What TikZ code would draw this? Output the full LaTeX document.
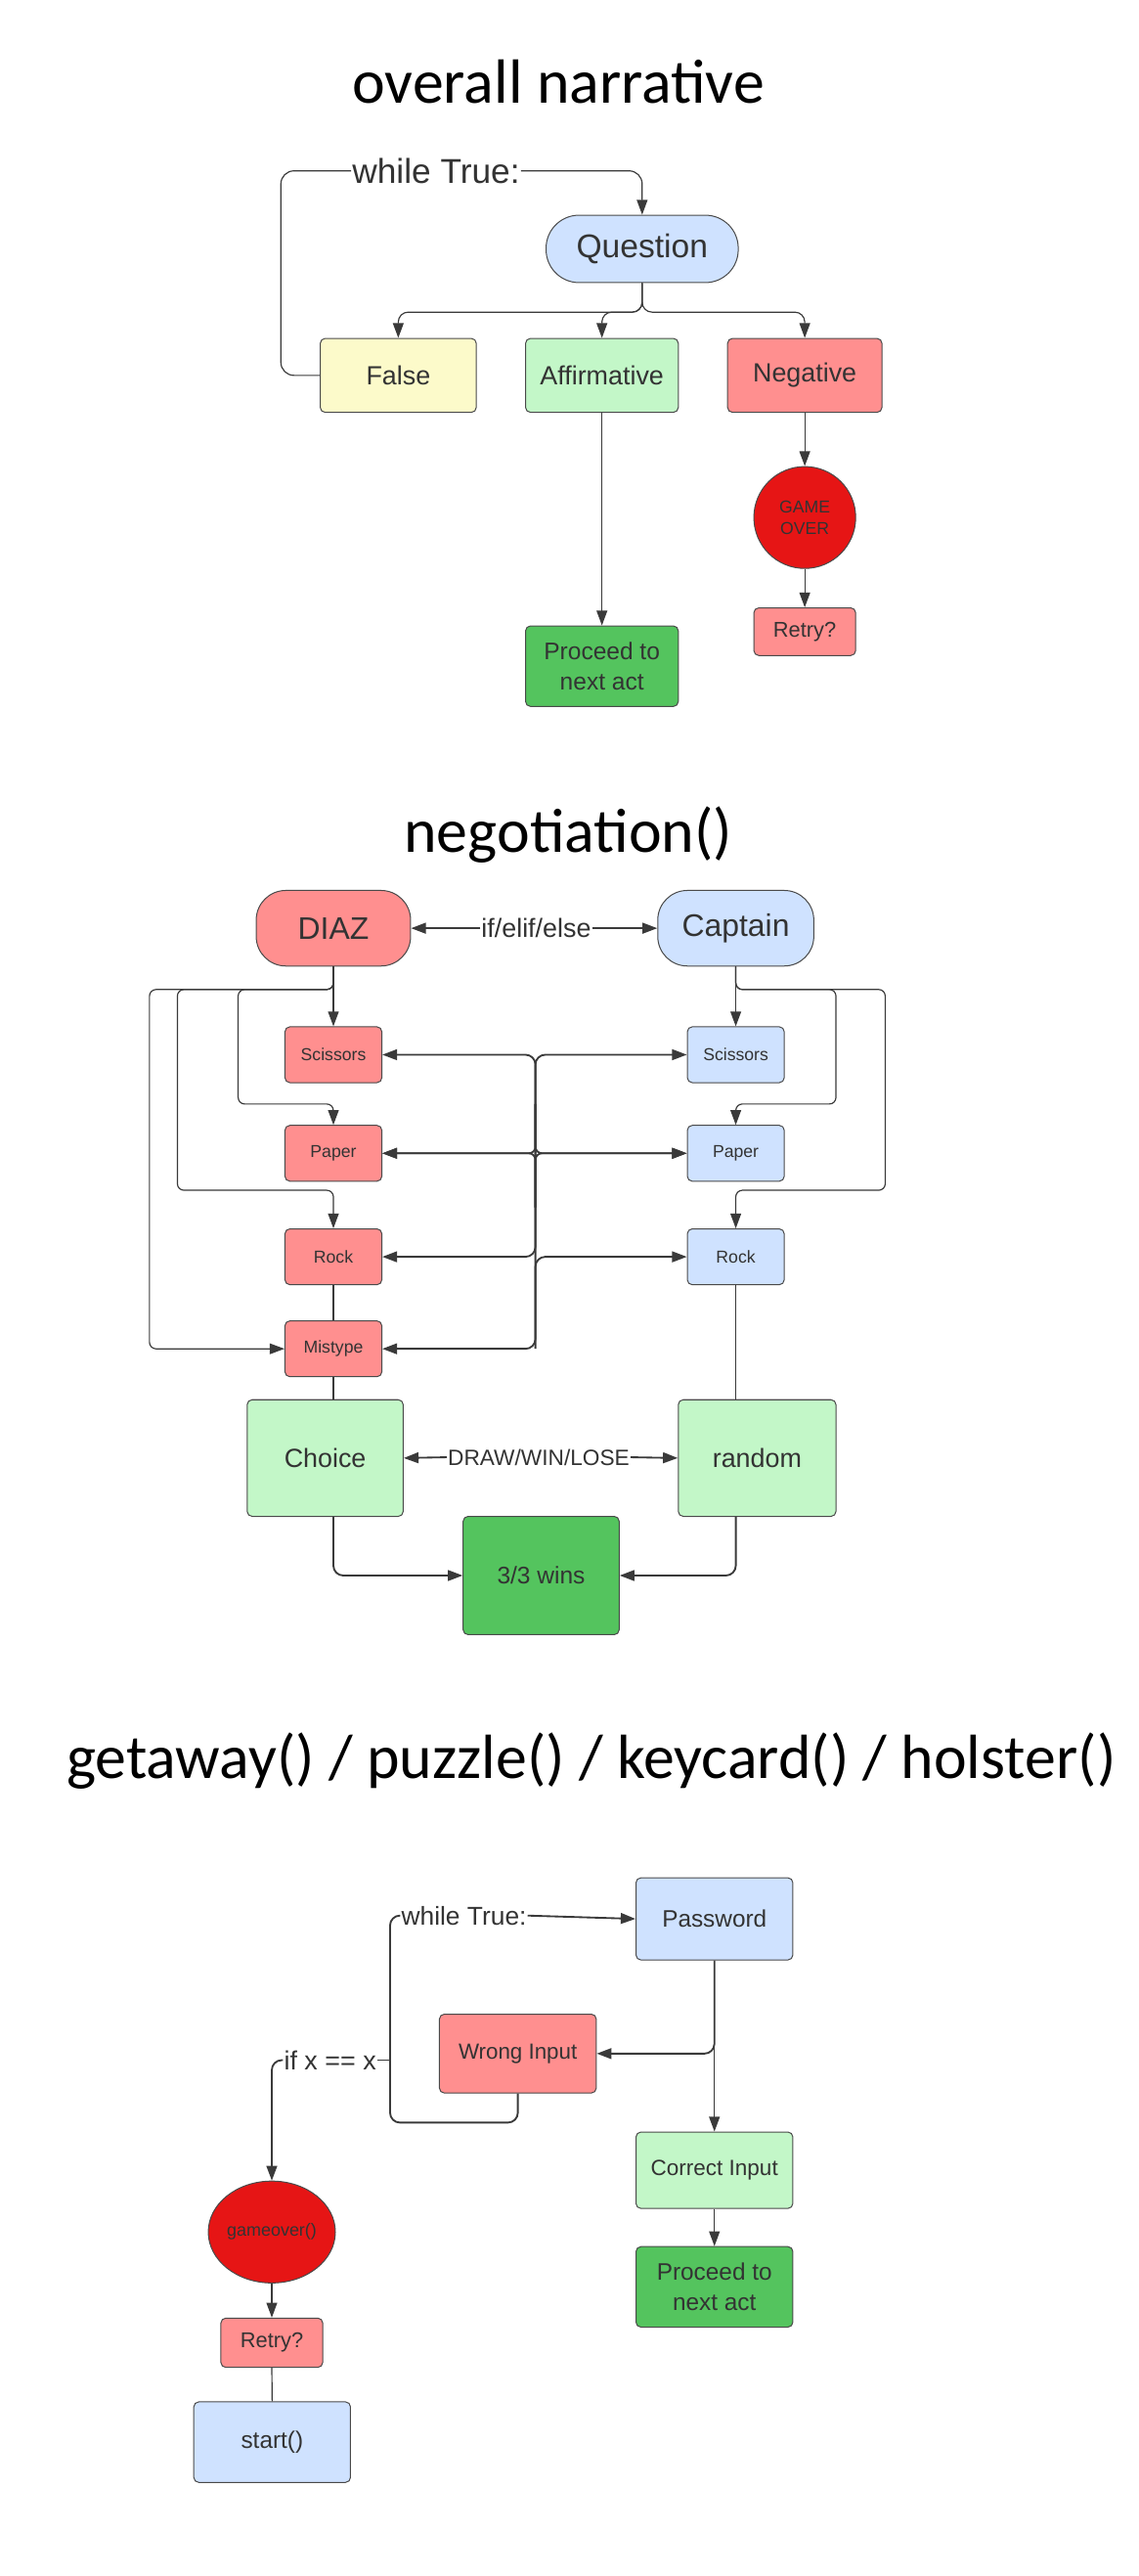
\documentclass[tikz,border=0pt]{standalone}
\usepackage{fontspec}
\setmainfont{Liberation Sans}
\newfontfamily\titlefont{Carlito}
\usetikzlibrary{arrows.meta,shapes.geometric}
\definecolor{cblue}{HTML}{CFE2FF}
\definecolor{cpink}{HTML}{FF8F8F}
\definecolor{clgreen}{HTML}{C3F7C8}
\definecolor{cgreen}{HTML}{54C45E}
\definecolor{cyellow}{HTML}{FCFACA}
\definecolor{cred}{HTML}{E61515}
\definecolor{cedge}{HTML}{4A4A4A}
\definecolor{cline}{HTML}{3A3A3A}
\definecolor{ctext}{HTML}{333333}
\tikzset{
  fs/.style 2 args={font=\fontsize{#1}{#2}\selectfont},
  box/.style={draw=cedge, line width=0.6pt, rounded corners=3pt, text=ctext, align=center, inner sep=0pt},
  oval/.style={draw=cedge, line width=0.6pt, ellipse, text=ctext, align=center, inner sep=0pt, fill=cred, minimum width=62pt, minimum height=62pt},
  arr/.style={draw=cline, line width=0.7pt, -{Triangle[length=9pt,width=6.5pt]}},
  arrb/.style={arr, line width=1.1pt},
  ln/.style={draw=cline, line width=0.7pt},
  lnb/.style={ln, line width=1.1pt},
  lbl/.style={text=ctext, inner sep=0.5pt},
  ttl/.style={font=\titlefont\fontsize{38}{44}\selectfont, text=black, inner sep=0pt}
}
\begin{document}
\begin{tikzpicture}[x=1pt,y=-1pt]
\useasboundingbox (0,0) rectangle (693,1568);
\fill[white] (0,0) rectangle (693,1568);

% ---------- section 1 ----------
\node[ttl] (t1) at (340,50) {overall narrative};
\node[box, rounded corners=20pt, fill=cblue, minimum width=117pt, minimum height=41pt, fs={20}{24}] (q) at (391,151.5) {Question};
\node[lbl, fs={21}{25}] (wt) at (265.5,104) {while True:};
\node[box, fill=cyellow, minimum width=95pt, minimum height=45pt, fs={16}{19}] (false) at (242.5,228.5) {False};
\node[box, fill=clgreen, minimum width=93pt, minimum height=45pt, fs={16}{19}] (aff) at (366.5,228.5) {Affirmative};
\node[box, fill=cpink, minimum width=94pt, minimum height=45pt, fs={16}{19}] (neg) at (490,228.5) {Negative};
\node[oval, fs={10.5}{13}] (go) at (490,315) {GAME\\OVER};
\node[box, fill=cpink, minimum width=62pt, minimum height=29pt, fs={13}{16}] (retry) at (490,384.5) {Retry?};
\node[box, fill=cgreen, minimum width=93pt, minimum height=49pt, fs={14.6}{18}] (proc) at (366.5,405.5) {Proceed to\\next act};

\coordinate (qb) at (391,190);
\draw[arr, rounded corners=6pt] (q.south) -- (qb) -| (false.north);
\draw[arr, rounded corners=6pt] (q.south) -- (qb) -| (aff.north);
\draw[arr, rounded corners=6pt] (q.south) -- (qb) -| (neg.north);
\draw[ln, rounded corners=8pt] (false.west) -| (171,104) -- (wt.west);
\draw[arr, rounded corners=8pt] (wt.east) -| (q.north);
\draw[arr] (aff.south) -- (proc.north);
\draw[arr] (neg.south) -- (go.north);
\draw[arr] (go.south) -- (retry.north);

% ---------- section 2 ----------
\node[ttl] (t2) at (346,508) {negotiation()};
\node[box, rounded corners=18pt, fill=cpink, minimum width=94pt, minimum height=46pt, fs={19}{23}] (diaz) at (203,565) {DIAZ};
\node[box, rounded corners=18pt, fill=cblue, minimum width=95pt, minimum height=46pt, fs={19}{23}] (cap) at (448,565) {Captain};
\node[lbl, fs={16}{19}] (ifl) at (326.5,565) {if/elif/else};
\draw[arrb] (ifl.west) -- (diaz.east);
\draw[arrb] (ifl.east) -- (cap.west);

\tikzset{small/.style={box, minimum width=59pt, minimum height=34pt, fs={10.5}{13}}}
\node[small, fill=cpink] (sciL) at (203,642) {Scissors};
\node[small, fill=cpink] (papL) at (203,702) {Paper};
\node[small, fill=cpink] (rockL) at (203,765) {Rock};
\node[small, fill=cpink] (misL) at (203,821) {Mistype};
\node[small, fill=cblue] (sciR) at (448,642) {Scissors};
\node[small, fill=cblue] (papR) at (448,702) {Paper};
\node[small, fill=cblue] (rockR) at (448,765) {Rock};

\draw[arr] (diaz.south) -- (sciL.north);
\draw[arr, rounded corners=4pt] (diaz.south) -- ++(0,14) -| (145,672) -| (papL.north);
\draw[arr, rounded corners=4pt] (diaz.south) -- ++(0,14) -| (108,724.5) -| (rockL.north);
\draw[arr, rounded corners=4pt] (diaz.south) -- ++(0,14) -| (91,821) -- (misL.west);
\draw[arr] (cap.south) -- (sciR.north);
\draw[arr, rounded corners=4pt] (cap.south) -- ++(0,14) -| (509,672) -| (papR.north);
\draw[arr, rounded corners=4pt] (cap.south) -- ++(0,14) -| (539,724.5) -| (rockR.north);

\coordinate (bus) at (326,702);
\coordinate (busA) at (326,672);
\coordinate (busB) at (326,735);
\coordinate (busC) at (326,821);
\draw[arrb, rounded corners=6pt] (bus) |- (sciL.east);
\draw[arrb, rounded corners=6pt] (bus) |- (sciR.west);
\draw[arrb, rounded corners=4pt] (busA) |- (papL.east);
\draw[arrb, rounded corners=4pt] (busB) |- (papL.east);
\draw[arrb, rounded corners=4pt] (busA) |- (papR.west);
\draw[arrb, rounded corners=4pt] (busB) |- (papR.west);
\draw[arrb, rounded corners=6pt] (bus) |- (rockL.east);
\draw[arrb, rounded corners=6pt] (busC) |- (rockR.west);
\draw[arrb, rounded corners=6pt] (bus) |- (misL.east);

\node[box, fill=clgreen, minimum width=95pt, minimum height=71pt, fs={16}{19}] (choice) at (198,887.5) {Choice};
\node[box, fill=clgreen, minimum width=96pt, minimum height=71pt, fs={16}{19}] (random) at (461,887.5) {random};
\node[lbl, fs={13.5}{16}] (dwl) at (328,887) {DRAW/WIN/LOSE};
\draw[arrb] (dwl.west) -- (choice.east);
\draw[arrb] (dwl.east) -- (random.west);
\node[box, fill=cgreen, minimum width=95pt, minimum height=72pt, fs={14.6}{18}] (wins) at (329.5,959) {3/3 wins};

\draw[ln] (rockL.south) -- (misL.north);
\draw[ln] (misL.south) -- (misL.south |- choice.north);
\draw[ln] (rockR.south) -- (rockR.south |- random.north);
\draw[arrb, rounded corners=6pt] (misL.south |- choice.south) |- (wins.west);
\draw[arrb, rounded corners=6pt] (rockR.south |- random.south) |- (wins.east);

% ---------- section 3 ----------
\node[ttl] (t3) at (360,1072) {getaway() / puzzle() / keycard() / holster()};
\node[box, fill=cblue, minimum width=95.5pt, minimum height=50pt, fs={14.5}{18}] (pw) at (435,1168) {Password};
\node[lbl, fs={15.7}{19}] (wt2) at (282.5,1166) {while True:};
\node[box, fill=cpink, minimum width=95.5pt, minimum height=48pt, fs={13.3}{16}] (wrong) at (315.3,1250) {Wrong Input};
\node[box, fill=clgreen, minimum width=95.5pt, minimum height=46.5pt, fs={13.4}{16}] (correct) at (435,1321) {Correct Input};
\node[box, fill=cgreen, minimum width=95.5pt, minimum height=49pt, fs={14.5}{18}] (proc2) at (435,1392) {Proceed to\\next act};
\node[lbl, fs={16}{19}] (ifx) at (201,1254) {if x == x};
\node[oval, fs={10.7}{13}] (gov) at (165.5,1358.6) {gameover()};
\node[box, fill=cpink, minimum width=62pt, minimum height=30pt, fs={13}{16}] (retry2) at (165.5,1426) {Retry?};
\node[box, fill=cblue, minimum width=95.4pt, minimum height=49pt, fs={14.5}{18}] (start) at (165.7,1486.5) {start()};

\draw[arrb] (wt2.east) -- (pw.west);
\draw[arr] (pw.south) -- (correct.north);
\draw[arrb, rounded corners=6pt] (pw.south) |- (wrong.east);
\draw[lnb, rounded corners=6pt] (wrong.south) |- (237.5,1292) -- (237.5,1166) -- (wt2.west);
\draw[ln] (ifx.east) -- (237.5,1254);
\draw[arrb, rounded corners=6pt] (ifx.west) -| (gov.north);
\draw[arr] (gov.south) -- (retry2.north);
\draw[ln] (retry2.south) -- (start.north);
\draw[arr] (correct.south) -- (proc2.north);
\end{tikzpicture}
\end{document}
